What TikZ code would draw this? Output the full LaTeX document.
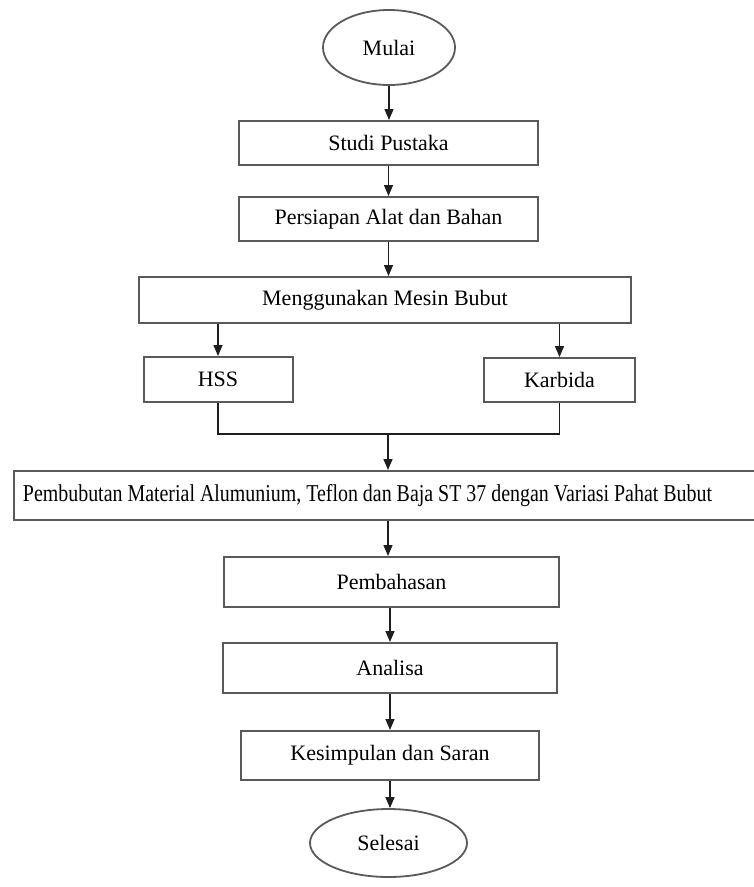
\documentclass[tikz,border=0pt]{standalone}
\usepackage{fontspec}
\setmainfont{Liberation Serif}
\usepackage{graphicx}
\usetikzlibrary{arrows.meta,positioning,calc,shapes.geometric}
\definecolor{boxgray}{HTML}{5A5A5A}
\definecolor{arrowblack}{HTML}{1E1E1E}
\tikzset{
  >={Triangle[length=11pt,width=9pt]},
  % flowchart
  term/.style={ellipse,draw=boxgray,line width=1.8pt,fill=white,inner sep=0pt},
  proc/.style={rectangle,draw=boxgray,line width=2pt,fill=white,inner sep=0pt},
  arr/.style={->,draw=arrowblack,line width=1.4pt},
  ln/.style={draw=arrowblack,line width=1.4pt},
}

\begin{document}
\begin{tikzpicture}[x=1pt,y=-1pt,every node/.append style={font=\fontsize{22}{26}\selectfont}]
  \useasboundingbox (0,0) rectangle (754,887);
  \node[term,minimum width=132pt,minimum height=75pt] (mulai) at (389,47.5) {Mulai};
  \node[proc,minimum width=299pt,minimum height=44pt] (studi) at (388.5,143) {Studi Pustaka};
  \node[proc,minimum width=299pt,minimum height=44pt] (siap) at (388.5,219) {Persiapan Alat dan Bahan};
  \node[proc,minimum width=492pt,minimum height=46pt] (mesin) at (385,300) {Menggunakan Mesin Bubut};
  \node[proc,minimum width=149pt,minimum height=45pt] (hss) at (218,379.5) {HSS};
  \node[proc,minimum width=151pt,minimum height=44pt] (karbida) at (559.5,380) {Karbida};
  \coordinate (gabung) at (388,434);
  \node[proc,minimum width=756pt,minimum height=49pt] (bubut) at (392,495.5) {};
  \node (bubuttxt) at (367.5,495.5) {\resizebox{689pt}{1.1\height}{Pembubutan Material Alumunium, Teflon dan Baja ST 37 dengan Variasi Pahat Bubut}};
  \node[proc,minimum width=335pt,minimum height=50pt] (bahas) at (391.5,582) {Pembahasan};
  \node[proc,minimum width=334pt,minimum height=50pt] (analisa) at (390,668) {Analisa};
  \node[proc,minimum width=298pt,minimum height=49pt] (simpul) at (390,755.5) {Kesimpulan dan Saran};
  \node[term,minimum width=157pt,minimum height=68pt] (selesai) at (388.5,843) {Selesai};

  \draw[arr] (mulai) -- (mulai |- studi.north);
  \draw[arr] (studi) -- (studi |- siap.north);
  \draw[arr] (siap) -- (siap |- mesin.north);
  \draw[arr] (hss |- mesin.south) -- (hss.north);
  \draw[arr] (karbida |- mesin.south) -- (karbida.north);
  \draw[ln] (hss.south) |- (gabung) -| (karbida.south);
  \draw[arr] (gabung) -- (gabung |- bubut.north);
  \draw[arr] (gabung |- bubut.south) -- (gabung |- bahas.north);
  \draw[arr] (bahas.south -| analisa) -- (analisa.north);
  \draw[arr] (analisa.south) -- (analisa |- simpul.north);
  \draw[arr] (simpul.south) -- (simpul |- selesai.north);
\end{tikzpicture}
\end{document}
